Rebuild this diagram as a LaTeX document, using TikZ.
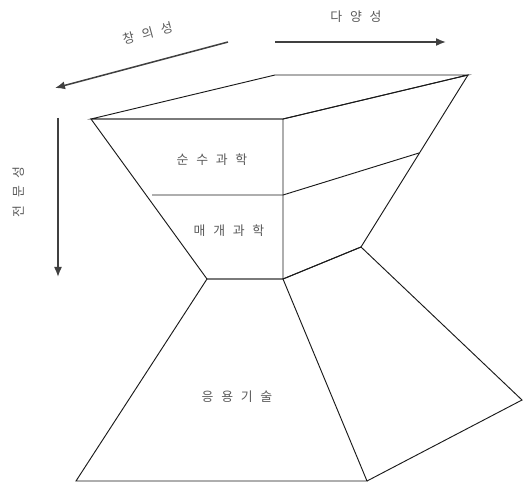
\documentclass[tikz,border=0pt]{standalone}
\usepackage{fontspec}
\setmainfont{Noto Sans CJK KR}
\newfontfamily\hgfonte[LetterSpace=60]{Noto Sans CJK KR}
\usepackage{tikz}
\usetikzlibrary{positioning,arrows.meta,calc}
\definecolor{hgtraco}{HTML}{1A1A1A}
\definecolor{hgseta}{HTML}{404040}
\definecolor{hgtexto}{HTML}{5A5A5A}
\tikzset{
  hgface/.style={draw=hgtraco, line width=0.8pt, line join=miter},
  hgsetacor/.style={-{Latex[length=3mm, width=2.4mm]}, line width=1.3pt, draw=hgseta},
  hgrotulo/.style={font=\hgfonte\fontsize{11}{13}\selectfont, text=hgtexto, inner sep=1pt},
}

\begin{document}
\begin{tikzpicture}[x=0.03cm, y=-0.03cm]
        \useasboundingbox (0,0) rectangle (523,482);
        % ---------------- vertices ----------------
        \coordinate (tbl) at (275,75);
        \coordinate (tbr) at (468,75);
        \coordinate (tfl) at (91,119);
        \coordinate (tfm) at (283,119);
        \coordinate (mfl) at (152,195);
        \coordinate (mfm) at (283,195);
        \coordinate (mr)  at (419,153);
        \coordinate (nfl) at (207,279);
        \coordinate (nfm) at (283,279);
        \coordinate (nr)  at (361,247);
        \coordinate (bfl) at (76,481);
        \coordinate (bfm) at (367,481);
        \coordinate (br)  at (522,400);
        % ---------------- funil de cima ----------------
        \draw[hgface] (tfl) -- (tbl) -- (tbr) -- (tfm) -- cycle;
        \draw[hgface] (tfl) -- (tfm) -- (nfm) -- (nfl) -- cycle;
        \draw[hgface] (tfm) -- (tbr) -- (nr) -- (nfm);
        \draw[hgface] (mfl) -- (mfm) -- (mr);
        % ---------------- funil de baixo ----------------
        \draw[hgface] (nfl) -- (nfm) -- (bfm) -- (bfl) -- cycle;
        \draw[hgface] (nfm) -- (nr) -- (br) -- (bfm);
        % ---------------- rotulos ----------------
        \node[hgrotulo] (puro) at (212,160) {순수과학};
        \node[hgrotulo] (meio) at (229,231) {매개과학};
        \node[hgrotulo] (apl)  at (237,397) {응용기술};
        % ---------------- eixos ----------------
        \coordinate (c0) at (228,42);
        \coordinate (c1) at (55,88);
        \coordinate (d0) at (275,42);
        \coordinate (d1) at (446,42);
        \coordinate (e0) at (58,118);
        \coordinate (e1) at (58,277);
        \draw[hgsetacor] (c0) -- (c1);
        \draw[hgsetacor] (d0) -- (d1);
        \draw[hgsetacor] (e0) -- (e1);
        \node[hgrotulo, rotate=15] (criat) at (148,33) {창의성};
        \node[hgrotulo] (diver) at (356,17) {다양성};
        \node[hgrotulo, rotate=90] (espec) at (19,192) {전문성};
    \end{tikzpicture}
\end{document}
